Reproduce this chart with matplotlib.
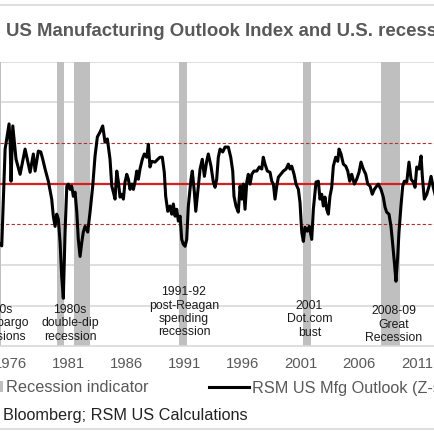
import numpy as np
import matplotlib
matplotlib.use('Agg')
import matplotlib.pyplot as plt
from matplotlib.lines import Line2D
from matplotlib.patches import Rectangle

plt.rcParams['font.family'] = ['Liberation Sans', 'DejaVu Sans']

# RSM US Mfg Outlook z-score (decimal year, z)
years = [1975.10, 1975.25, 1975.54, 1975.88, 1975.97, 1976.05, 1976.20, 1976.48, 1976.83,
         1977.26, 1977.69, 1977.97, 1978.12, 1978.40, 1978.61, 1978.78, 1978.98, 1979.26,
         1979.55, 1979.69, 1979.84, 1979.98, 1980.12, 1980.27, 1980.41, 1980.55, 1980.70,
         1980.85, 1980.98, 1981.13, 1981.28, 1981.41, 1981.56, 1981.71, 1981.84, 1981.99,
         1982.14, 1982.27, 1982.42, 1982.65, 1982.85, 1983.08, 1983.28, 1983.48, 1983.71,
         1983.94, 1984.14, 1984.34, 1984.57, 1984.72, 1984.86, 1985.00, 1985.15, 1985.29,
         1985.43, 1985.58, 1985.72, 1985.86, 1986.01, 1986.15, 1986.29, 1986.44, 1986.58,
         1986.72, 1986.87, 1987.01, 1987.15, 1987.35, 1987.52, 1987.73, 1987.87, 1988.01,
         1988.16, 1988.44, 1988.68, 1988.87, 1989.07, 1989.24, 1989.36, 1989.54, 1989.73,
         1989.88, 1990.02, 1990.17, 1990.31, 1990.45, 1990.60, 1990.74, 1990.88, 1991.03,
         1991.17, 1991.31, 1991.54, 1991.65, 1991.83, 1991.95, 1992.12, 1992.32, 1992.51,
         1992.69, 1992.89, 1993.03, 1993.26, 1993.46, 1993.61, 1993.75, 1993.89, 1994.04,
         1994.27, 1994.47, 1994.75, 1994.96, 1995.13, 1995.24, 1995.41, 1995.61, 1995.76,
         1995.91, 1996.04, 1996.19, 1996.34, 1996.47, 1996.62, 1996.77, 1996.96, 1997.20,
         1997.42, 1997.63, 1997.76, 1997.91, 1998.11, 1998.34, 1998.49, 1998.63, 1998.77,
         1998.92, 1999.06, 1999.26, 1999.49, 1999.72, 1999.92, 2000.06, 2000.21, 2000.41,
         2000.58, 2000.78, 2000.92, 2001.07, 2001.21, 2001.35, 2001.55, 2001.72, 2001.93,
         2002.07, 2002.30, 2002.50, 2002.64, 2002.79, 2002.93, 2003.07, 2003.22, 2003.36,
         2003.50, 2003.65, 2003.79, 2003.99, 2004.17, 2004.28, 2004.45, 2004.65, 2004.86,
         2005.03, 2005.20, 2005.37, 2005.60, 2005.80, 2006.00, 2006.17, 2006.37, 2006.58,
         2006.75, 2006.95, 2007.14, 2007.32, 2007.52, 2007.66, 2007.89, 2008.09, 2008.24,
         2008.38, 2008.58, 2008.75, 2008.86, 2009.04, 2009.18, 2009.33, 2009.44, 2009.61,
         2009.76, 2009.90, 2010.11, 2010.30, 2010.48, 2010.67, 2010.82, 2010.97, 2011.16,
         2011.34, 2011.45, 2011.62, 2011.83, 2012.03, 2012.20, 2012.39, 2012.54]
zscore = [-1.49, -1.53, 0.85, 1.47, 1.02, 0.06, 1.42, 0.60, 0.23,
          0.85, 0.28, 0.73, 0.31, 0.80, 0.78, 0.60, 0.36, 0.06,
          -0.38, -0.80, -1.05, -0.75, -0.87, -1.44, -2.28, -2.82, -1.19,
          -0.06, -0.01, -0.14, -0.06, -0.31, -0.21, -0.70, -1.37, -1.79,
          -1.44, -1.19, -1.05, -1.19, -0.70, -0.06, 0.68, 1.15, 1.27,
          1.42, 1.02, 1.10, 0.60, -0.06, -0.21, -0.38, 0.31, 0.04,
          -0.33, -0.26, -0.38, 0.04, 0.23, 0.11, -0.14, -0.01, -0.14,
          0.04, 0.31, 0.11, 0.36, 0.60, 0.73, 0.65, 0.97, 0.41,
          0.55, 0.53, 0.60, 0.65, 0.65, 0.28, -0.31, -0.68, -0.55,
          -0.75, -0.50, -0.80, -0.63, -0.92, -0.80, -1.37, -1.49, -1.54,
          -1.37, -0.55, 0.11, 0.31, -0.21, -0.68, -0.21, 0.36, 0.60,
          0.18, 0.55, 0.73, 0.43, 0.04, -0.09, 0.11, 0.65, 0.85,
          0.78, 0.90, 0.90, 0.65, 0.31, -0.31, -0.55, -0.70, -0.06,
          -0.38, -0.01, -0.63, 0.04, 0.23, -0.01, 0.23, 0.31, 0.31,
          0.41, 0.36, 0.65, 0.48, 0.31, 0.28, 0.06, -0.01, -0.38,
          -0.06, 0.16, 0.23, 0.31, 0.36, 0.48, 0.36, 0.43, 0.23,
          -0.01, -0.14, -0.46, -1.19, -1.42, -1.07, -1.17, -1.05, -1.37,
          -0.63, 0.04, 0.06, -0.38, -0.26, -0.55, -0.33, -0.63, -0.75,
          -0.31, -0.09, 0.43, 0.65, 0.55, 0.85, 0.73, 0.48, 0.43,
          0.31, 0.06, 0.23, -0.01, 0.11, 0.28, 0.53, 0.36, 0.23,
          -0.01, -0.06, -0.26, -0.14, -0.06, -0.01, -0.14, -0.33, -0.58,
          -0.70, -0.75, -1.05, -1.37, -1.93, -2.40, -1.79, -1.19, -0.55,
          -0.06, 0.06, 0.04, 0.53, 0.11, 0.04, -0.09, 0.41, 0.36,
          0.68, 0.18, -0.38, -0.26, -0.06, 0.18, -0.09, -0.26]

# NBER recessions (start, end)
rec_start = [1973.83, 1980.0, 1981.5, 1990.5, 2001.17, 2007.92]
rec_end = [1975.21, 1980.58, 1982.88, 1991.21, 2001.88, 2009.5]

xticks = [1976, 1981, 1986, 1991, 1996, 2001, 2006, 2011]

notes = ['1970s\noil embargo\nrecessions', '1980s\ndouble-dip\nrecession',
         '1991-92\npost-Reagan\nspending\nrecession', '2001\nDot.com\nbust',
         '2008-09\nGreat\nRecession']
note_x = [1974.76, 1981.13, 1990.94, 2001.74, 2009.01]
note_y = [-3.41, -3.41, -3.14, -3.31, -3.44]

grey = '#595959'

fig = plt.figure(figsize=(4.35, 4.35), dpi=100)
ax = fig.add_axes([0, 0.2016, 1, 0.6543])

for s, e in zip(rec_start, rec_end):
    ax.axvspan(s, e, color='#bfbfbf', lw=0, zorder=1)

for g in [3, 2, -2, -3]:
    ax.axhline(g, color='#d9d9d9', lw=1.2, zorder=0)
ax.axhline(0, color='#d42020', lw=1.6, zorder=2)
ax.axhline(1, color='#b03030', lw=0.8, ls=(0, (3, 2)), zorder=2)
ax.axhline(-1, color='#b03030', lw=0.8, ls=(0, (3, 2)), zorder=2)

ax.plot(years, zscore, color='black', lw=2.2, zorder=3, solid_joinstyle='round')

for t, x, y in zip(notes, note_x, note_y):
    ax.text(x, y, t, ha='center', va='center', fontsize=8.8, linespacing=1.15,
            color='#1a1a1a', clip_on=False, zorder=4)

ax.text(2012.35, -2.65, 'r', color='#2e75b6', fontsize=9, ha='left', va='center',
        clip_on=False)

ax.set_xlim(1975.10, 2012.54)
ax.set_ylim(-4, 3)
ax.set_xticks(xticks)
ax.set_yticks([])
ax.tick_params(axis='x', length=0, labelsize=10.7, labelcolor=grey, pad=7)
for side in ['top', 'left', 'right']:
    ax.spines[side].set_visible(False)
ax.spines['bottom'].set_color('#d9d9d9')
ax.spines['bottom'].set_linewidth(1.2)
ax.set_facecolor('none')

fig.text(6 / 435, 1 - 32 / 435, 'US Manufacturing Outlook Index and U.S. recessions',
         fontsize=13.4, fontweight='bold', color=grey, va='center', ha='left')

# legend drawn by hand
fig.add_artist(Rectangle((-0.02, 1 - 393 / 435), 0.027, 11 / 435,
                         transform=fig.transFigure, color='#bfbfbf', lw=0))
fig.text(6 / 435, 1 - 388 / 435, 'Recession indicator', fontsize=11.7, color=grey,
         va='center', ha='left')
fig.add_artist(Line2D([209 / 435, 249 / 435], [1 - 388 / 435, 1 - 388 / 435],
                      transform=fig.transFigure, color='black', lw=2.2))
fig.text(252 / 435, 1 - 388 / 435, 'RSM US Mfg Outlook (Z-score)', fontsize=11.7,
         color=grey, va='center', ha='left')

fig.text(3 / 435, 1 - 416 / 435, 'Bloomberg; RSM US Calculations', fontsize=11.7,
         color='#222222', va='center', ha='left')

fig.add_artist(Line2D([0, 1], [1 - 6 / 435, 1 - 6 / 435], transform=fig.transFigure,
                      color='#d9d9d9', lw=1.2))
fig.add_artist(Line2D([0, 1], [1 - 430 / 435, 1 - 430 / 435], transform=fig.transFigure,
                      color='#d9d9d9', lw=1.2))

fig.savefig('out.png', dpi=100)
